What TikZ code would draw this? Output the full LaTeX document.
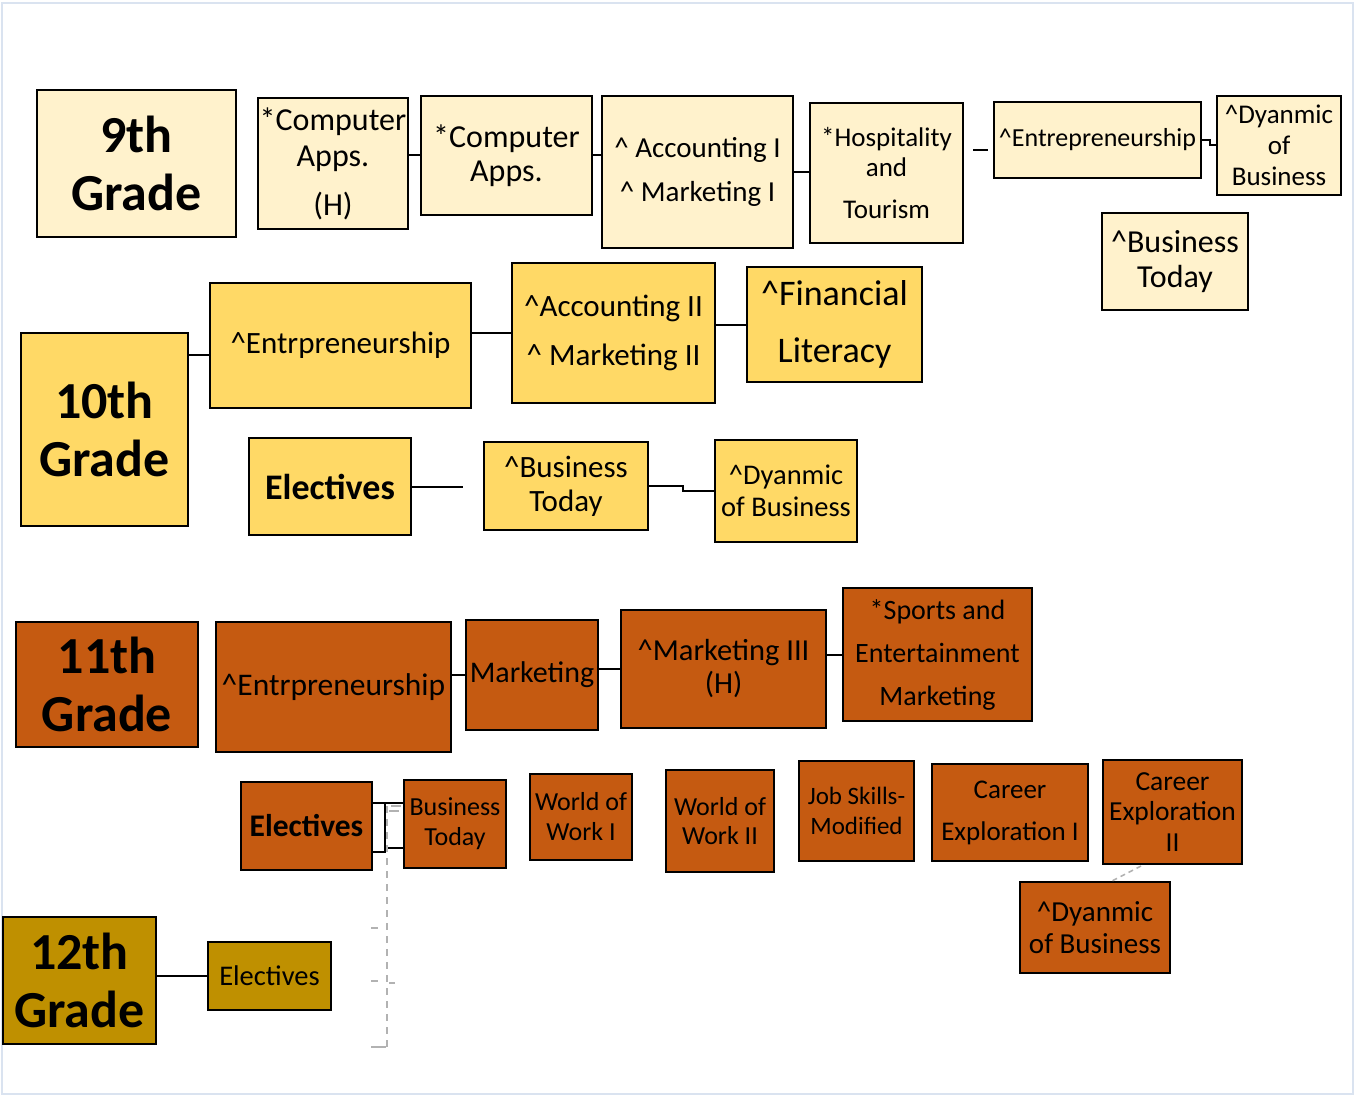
\documentclass[tikz,border=0pt]{standalone}
\usepackage{fontspec}
\setmainfont{Carlito}
\definecolor{cnine}{HTML}{FFF2CC}
\definecolor{cten}{HTML}{FFD966}
\definecolor{celeven}{HTML}{C55A11}
\definecolor{ctwelve}{HTML}{BF9000}
\definecolor{pageframe}{HTML}{DAE3F0}
\newcommand\fsz[2]{\fontsize{#1}{#2}\selectfont}
\newcommand\crt{\textasciicircum}
\tikzset{
  box/.style={draw=black, line width=2.5pt, rectangle, inner sep=0pt, align=center, text=black},
  bnine/.style={box, fill=cnine},
  bten/.style={box, fill=cten},
  beleven/.style={box, fill=celeven},
  btwelve/.style={box, fill=ctwelve},
  grade/.style={font=\fsz{52}{58}\bfseries},
  conn/.style={draw=black, line width=2pt},
  ghost/.style={draw=black!30, line width=1.5pt, dash pattern=on 7pt off 6pt},
}
\begin{document}
\begin{tikzpicture}[x=1pt,y=-1pt]
\useasboundingbox (0,0) rectangle (1356,1094);
\draw[pageframe, line width=1.2pt] (2,3) rectangle (1353,1094);

% 9th grade
\node[bnine, grade, minimum width=199pt, minimum height=147pt] (g9) at (136.5,163.5) {9th\\Grade};
\node[bnine, font=\fsz{32}{36}, minimum width=150pt, minimum height=131pt] (ca1) at (333,163.5) {*Computer\\Apps.\\[13pt](H)};
\node[bnine, font=\fsz{32}{34}, minimum width=171pt, minimum height=119pt] (ca2) at (506.5,155.5) {*Computer\\Apps.};
\node[bnine, font=\fsz{29}{44}, minimum width=191pt, minimum height=152pt] (acc1) at (697.5,172) {\crt{} Accounting I\\\crt{} Marketing I};
\node[bnine, font=\fsz{27}{30}, minimum width=153pt, minimum height=140pt] (hosp) at (886.5,173) {*Hospitality\\and\\[12pt]Tourism};
\node[bnine, font=\fsz{26}{30}, minimum width=207pt, minimum height=76pt] (entr1) at (1097.5,140) {\crt Entrepreneurship};
\node[bnine, font=\fsz{27}{31}, minimum width=124pt, minimum height=99pt] (dyn1) at (1279,145.5) {\crt Dyanmic\\of\\Business};
\node[bnine, font=\fsz{32}{35}, minimum width=146pt, minimum height=97pt] (bt1) at (1175,261.5) {\crt Business\\Today};

\draw[conn] (ca1.east |- ca2.west) -- (ca2.west);
\draw[conn] (ca2.east) -- (ca2.east -| acc1.west);
\draw[conn] (acc1.east) -- (acc1.east -| hosp.west);
\coordinate (hd1) at (973,150);
\coordinate (hd2) at (988,150);
\draw[conn] (hd1) -- (hd2);
\draw[conn] (entr1.east) -- ++(8,0) |- (dyn1.west);

% 10th grade
\node[bten, grade, minimum width=167pt, minimum height=193pt] (g10) at (104.5,429.5) {10th\\Grade};
\node[bten, font=\fsz{31}{36}, minimum width=261pt, minimum height=125pt] (entr2) at (340.5,345.5) {\crt Entrpreneurship};
\node[bten, font=\fsz{31}{49}, minimum width=203pt, minimum height=140pt] (acc2) at (613.5,333) {\crt Accounting II\\\crt{} Marketing II};
\node[bten, font=\fsz{36}{57}, minimum width=175pt, minimum height=115pt] (fin) at (834.5,324.5) {\crt Financial\\Literacy};
\node[bten, font=\fsz{36}{40}\bfseries, minimum width=162pt, minimum height=97pt] (el10) at (330,486.5) {Electives};
\node[bten, font=\fsz{31}{34}, minimum width=164pt, minimum height=88pt] (bt2) at (566,486) {\crt Business\\Today};
\node[bten, font=\fsz{28.5}{32}, minimum width=142pt, minimum height=102pt] (dyn2) at (786,491) {\crt Dyanmic\\of Business};

\coordinate (g10e) at (0,355);
\draw[conn] (g10.east |- g10e) -- (entr2.west |- g10e);
\draw[conn] (entr2.east |- acc2.west) -- (acc2.west);
\draw[conn] (acc2.east |- fin.west) -- (fin.west);
\coordinate (elend) at (463,486.5);
\draw[conn] (el10.east) -- (elend);
\draw[conn] (bt2.east) -- ++(34,0) |- (dyn2.west);

% 11th grade
\node[beleven, grade, minimum width=182pt, minimum height=125pt] (g11) at (107,684.5) {11th\\Grade};
\node[beleven, font=\fsz{31.5}{36}, minimum width=235pt, minimum height=130pt] (entr3) at (333.5,687) {\crt Entrpreneurship};
\node[beleven, font=\fsz{30}{34}, minimum width=132pt, minimum height=110pt] (mkt) at (532,675) {Marketing};
\node[beleven, font=\fsz{30.5}{33}, minimum width=205pt, minimum height=118pt] (mkt3) at (723.5,669) {\crt Marketing III\\(H)};
\node[beleven, font=\fsz{28}{43}, minimum width=189pt, minimum height=133pt] (sports) at (937.5,654.5) {*Sports and\\Entertainment\\Marketing};

\draw[conn] (entr3.east |- mkt.west) -- (mkt.west);
\draw[conn] (mkt.east |- mkt3.west) -- (mkt3.west);
\draw[conn] (mkt3.east |- sports.west) -- (sports.west);

\node[beleven, font=\fsz{31.5}{36}\bfseries, minimum width=131pt, minimum height=88pt] (el11) at (306.5,826) {Electives};
\node[beleven, font=\fsz{26}{30}, minimum width=102pt, minimum height=88pt] (bt3) at (455,824) {Business\\Today};
\node[beleven, font=\fsz{26}{30}, minimum width=102pt, minimum height=86pt] (ww1) at (581,817) {World of\\Work I};
\node[beleven, font=\fsz{26}{29}, minimum width=108pt, minimum height=102pt] (ww2) at (720,821) {World of\\Work II};
\node[beleven, font=\fsz{25}{30}, minimum width=115pt, minimum height=100pt] (job) at (856.5,811) {Job Skills-\\Modified};
\node[beleven, font=\fsz{27}{42}, minimum width=156pt, minimum height=97pt] (ce1) at (1010,812.5) {Career\\Exploration I};
\node[beleven, font=\fsz{27.5}{30.5}, minimum width=139pt, minimum height=104pt] (ce2) at (1172.5,812) {Career\\Exploration\\II};
\node[beleven, font=\fsz{29}{32}, minimum width=150pt, minimum height=91pt] (dyn3) at (1095,927.5) {\crt Dyanmic\\of Business};

% gray guide lines
\coordinate (gv1) at (387,806);
\coordinate (gv2) at (387,1047);
\draw[ghost] (gv1) -- (gv2);
\coordinate (gt1a) at (371,928); \coordinate (gt1b) at (378,928);
\coordinate (gt2a) at (371,981); \coordinate (gt2b) at (378,981);
\coordinate (gt3a) at (371,1047); \coordinate (gt3b) at (386,1047);
\coordinate (gt4a) at (389,983); \coordinate (gt4b) at (395,983);
\coordinate (gt5a) at (391,806); \coordinate (gt5b) at (401,806);
\coordinate (gt6a) at (389,811); \coordinate (gt6b) at (399,811);
\draw[draw=black!30, line width=1.5pt] (gt1a) -- (gt1b) (gt2a) -- (gt2b) (gt3a) -- (gt3b) (gt4a) -- (gt4b) (gt5a) -- (gt5b) (gt6a) -- (gt6b);
\coordinate (gd1) at (1141,866);
\coordinate (gd2) at (1110,882);
\draw[draw=black!30, line width=1.5pt, dash pattern=on 5pt off 4pt] (gd1) -- (gd2);

% electives bracket
\coordinate (bt) at (0,803);
\coordinate (bb) at (0,852);
\coordinate (bx) at (385,0);
\coordinate (bs) at (0,848);
\draw[conn] (el11.east |- bt) -- (bt3.west |- bt);
\draw[conn] (el11.east |- bb) -- (bx |- bb) -- (bx |- bt);
\draw[conn] (bx |- bs) ++(3,0) -- (bt3.west |- bs);

% 12th grade
\node[btwelve, grade, minimum width=153pt, minimum height=127pt] (g12) at (79.5,980.5) {12th\\Grade};
\node[btwelve, font=\fsz{28.5}{32}, minimum width=123pt, minimum height=68pt] (el12) at (269.5,976) {Electives};
\draw[conn] (g12.east |- el12.west) -- (el12.west);
\end{tikzpicture}
\end{document}
